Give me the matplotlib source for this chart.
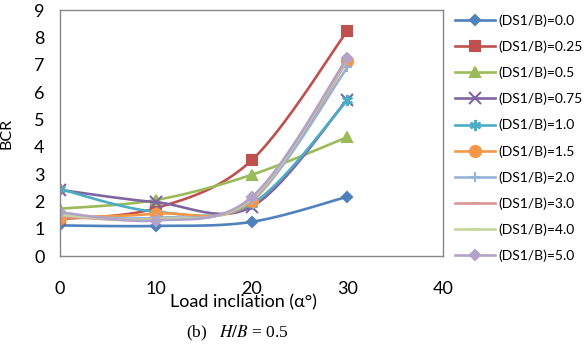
import numpy as np
import matplotlib
matplotlib.use("Agg")
import matplotlib.pyplot as plt

plt.rcParams['font.family'] = ['Lato', 'DejaVu Sans']
plt.rcParams['mathtext.fontset'] = 'stix'

# load inclination (deg)
alpha = [0, 10, 20, 30]

labels = ["(DS1/B)=0.0", "(DS1/B)=0.25", "(DS1/B)=0.5", "(DS1/B)=0.75",
          "(DS1/B)=1.0", "(DS1/B)=1.5", "(DS1/B)=2.0", "(DS1/B)=3.0",
          "(DS1/B)=4.0", "(DS1/B)=5.0"]

bcr_00 = [1.12, 1.10, 1.25, 2.17]
bcr_025 = [1.35, 1.75, 3.50, 8.24]
bcr_05 = [1.73, 2.05, 2.97, 4.35]
bcr_075 = [2.42, 1.97, 1.80, 5.72]
bcr_10 = [2.45, 1.62, 1.90, 5.70]
bcr_15 = [1.40, 1.55, 2.00, 7.15]
bcr_20 = [1.50, 1.40, 2.05, 6.90]
bcr_30 = [1.45, 1.35, 2.10, 7.15]
bcr_40 = [1.50, 1.35, 2.10, 7.20]
bcr_50 = [1.60, 1.30, 2.15, 7.25]

series = [bcr_00, bcr_025, bcr_05, bcr_075, bcr_10, bcr_15, bcr_20, bcr_30, bcr_40, bcr_50]

colors = ["#4F81BD", "#C0504D", "#9BBB59", "#8064A2", "#4BACC6",
          "#F79646", "#95B3D7", "#D99694", "#C3D69B", "#B3A2C7"]
markers = ["D", "s", "^", "x", (6, 2, 0), "o", "+", "_", "_", "D"]
msizes = [5, 7, 7, 8, 8, 8, 7, 6, 6, 5]


def smooth(x, y, n=30):
    # Catmull-Rom style curve through the points (like Excel's smoothed line)
    x = np.asarray(x, float)
    y = np.asarray(y, float)
    px = np.concatenate([[x[0]], x, [x[-1]]])
    py = np.concatenate([[y[0]], y, [y[-1]]])
    xs, ys = [], []
    t = np.linspace(0, 1, n)
    for i in range(1, len(px) - 2):
        p0, p1, p2, p3 = [np.array([px[j], py[j]]) for j in range(i - 1, i + 3)]
        c1 = p1 + (p2 - p0) / 6
        c2 = p2 - (p3 - p1) / 6
        pts = ((1 - t) ** 3)[:, None] * p1 + (3 * (1 - t) ** 2 * t)[:, None] * c1 \
            + (3 * (1 - t) * t ** 2)[:, None] * c2 + (t ** 3)[:, None] * p2
        xs.extend(pts[:, 0])
        ys.extend(pts[:, 1])
    return xs, ys


fig = plt.figure(figsize=(5.87, 3.46), dpi=100)
ax = fig.add_axes([0.102, 0.260, 0.653, 0.711])

for y, lab, c, m, ms in zip(series, labels, colors, markers, msizes):
    sx, sy = smooth(alpha, y)
    ax.plot(sx, sy, color=c, lw=1.9)
    ax.plot(alpha, y, linestyle="none", marker=m, color=c, markersize=ms,
            markeredgewidth=1.5)
    ax.plot([], [], color=c, lw=1.9, marker=m, markersize=ms,
            markeredgewidth=1.5, label=lab)

ax.set_xlim(0, 40)
ax.set_ylim(0, 9)
ax.set_xticks([0, 10, 20, 30, 40])
ax.set_yticks(range(10))
for s in ax.spines.values():
    s.set_color("#868686")
    s.set_linewidth(1)
ax.tick_params(length=0, labelsize=13)
ax.tick_params(axis="x", pad=18)
ax.tick_params(axis="y", pad=11)
ax.set_ylabel("BCR", fontsize=11.5)
ax.yaxis.set_label_coords(-0.122, 0.5)
ax.set_xlabel("Load incliation (α°)", fontsize=13)
ax.xaxis.set_label_coords(0.48, -0.155)

fig.legend(*ax.get_legend_handles_labels(), loc="upper left",
           bbox_to_anchor=(0.765, 0.975), frameon=False, fontsize=10,
           handlelength=2.9, handletextpad=0.25, labelspacing=0.98,
           borderaxespad=0)

fig.text(0.317, 0.037, "(b)   $H/B$ = 0.5", fontsize=12.5,
         family="Liberation Serif", va="center")

fig.savefig("out.png", dpi=100)
